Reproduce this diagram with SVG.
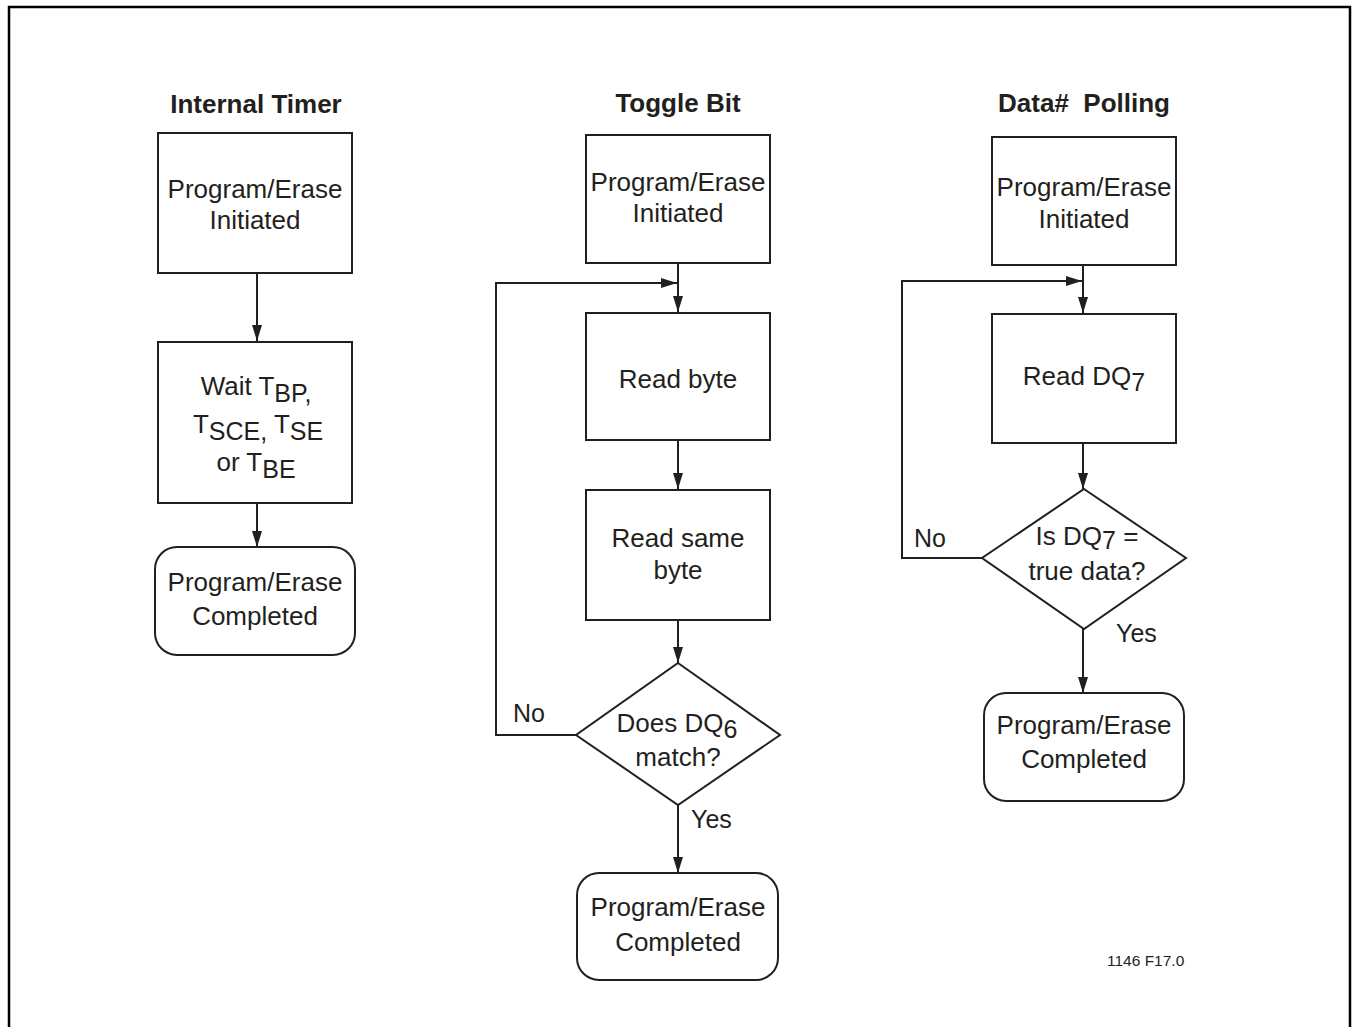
<svg xmlns="http://www.w3.org/2000/svg" width="1356" height="1027" viewBox="0 0 1356 1027">
<style>
.box{fill:#fff;stroke:#231f20;stroke-width:2}
.line{fill:none;stroke:#231f20;stroke-width:2}
.t{font-family:"Liberation Sans",Arial,sans-serif;font-size:26px;fill:#231f20;text-anchor:middle}
.h{font-family:"Liberation Sans",Arial,sans-serif;font-size:26px;font-weight:bold;fill:#231f20;text-anchor:middle}
.lbl{font-family:"Liberation Sans",Arial,sans-serif;font-size:25px;fill:#231f20}
.sub{font-size:25px}
.note{font-family:"Liberation Sans",Arial,sans-serif;font-size:15.5px;fill:#231f20}
</style>
<defs>
<marker id="arr" markerUnits="userSpaceOnUse" markerWidth="16" markerHeight="10" refX="16" refY="5" orient="auto">
<path d="M0,0 L16,5 L0,10 z" fill="#231f20"/>
</marker>
</defs>
<rect x="0" y="0" width="1356" height="1027" fill="#fff"/>
<path d="M9,1027 V7 H1350 V1027" fill="none" stroke="#000" stroke-width="2.5"/>

<g id="titles">
<text class="h" x="256" y="113">Internal Timer</text>
<text class="h" x="678" y="112">Toggle Bit</text>
<text class="h" x="1084" y="112" xml:space="preserve">Data#  Polling</text>
</g>

<g id="connectors">
<line class="line" x1="257" y1="273" x2="257" y2="341" marker-end="url(#arr)"/>
<line class="line" x1="257" y1="503" x2="257" y2="547" marker-end="url(#arr)"/>

<line class="line" x1="678" y1="263" x2="678" y2="312" marker-end="url(#arr)"/>
<path class="line" d="M576,735 H496 V283 H677" marker-end="url(#arr)"/>
<line class="line" x1="678" y1="440" x2="678" y2="489" marker-end="url(#arr)"/>
<line class="line" x1="678" y1="620" x2="678" y2="663" marker-end="url(#arr)"/>
<line class="line" x1="678" y1="805" x2="678" y2="873" marker-end="url(#arr)"/>
<text class="lbl" x="513" y="722">No</text>
<text class="lbl" x="691" y="828">Yes</text>

<line class="line" x1="1083" y1="265" x2="1083" y2="313" marker-end="url(#arr)"/>
<path class="line" d="M982,558 H902 V281 H1082" marker-end="url(#arr)"/>
<line class="line" x1="1083" y1="443" x2="1083" y2="489" marker-end="url(#arr)"/>
<line class="line" x1="1083" y1="629" x2="1083" y2="693" marker-end="url(#arr)"/>
<text class="lbl" x="914" y="547">No</text>
<text class="lbl" x="1116" y="642">Yes</text>
</g>

<g id="it-start">
<rect class="box" x="158" y="133" width="194" height="140"/>
<text class="t" x="255" y="198">Program/Erase</text>
<text class="t" x="255" y="229">Initiated</text>
</g>
<g id="it-wait">
<rect class="box" x="158" y="342" width="194" height="161"/>
<text class="t" x="256" y="395">Wait T<tspan class="sub" dy="7">BP,</tspan></text>
<text class="t" x="258" y="433">T<tspan class="sub" dy="7">SCE,</tspan><tspan dy="-7" xml:space="preserve"> T</tspan><tspan class="sub" dy="7">SE</tspan></text>
<text class="t" x="256" y="471">or T<tspan class="sub" dy="7">BE</tspan></text>
</g>
<g id="it-done">
<rect class="box" x="155" y="547" width="200" height="108" rx="22" ry="22"/>
<text class="t" x="255" y="591">Program/Erase</text>
<text class="t" x="255" y="625">Completed</text>
</g>

<g id="tb-start">
<rect class="box" x="586" y="135" width="184" height="128"/>
<text class="t" x="678" y="191">Program/Erase</text>
<text class="t" x="678" y="222">Initiated</text>
</g>
<g id="tb-read">
<rect class="box" x="586" y="313" width="184" height="127"/>
<text class="t" x="678" y="388">Read byte</text>
</g>
<g id="tb-readsame">
<rect class="box" x="586" y="490" width="184" height="130"/>
<text class="t" x="678" y="547">Read same</text>
<text class="t" x="678" y="579">byte</text>
</g>
<g id="tb-decision">
<polygon class="box" points="678,663 780,735 678,805 576,735"/>
<text class="t" x="677" y="732">Does DQ<tspan class="sub" dy="6">6</tspan></text>
<text class="t" x="678" y="766">match?</text>
</g>
<g id="tb-done">
<rect class="box" x="577" y="873" width="201" height="107" rx="22" ry="22"/>
<text class="t" x="678" y="916">Program/Erase</text>
<text class="t" x="678" y="951">Completed</text>
</g>

<g id="dp-start">
<rect class="box" x="992" y="137" width="184" height="128"/>
<text class="t" x="1084" y="196">Program/Erase</text>
<text class="t" x="1084" y="228">Initiated</text>
</g>
<g id="dp-read">
<rect class="box" x="992" y="314" width="184" height="129"/>
<text class="t" x="1084" y="385">Read DQ<tspan class="sub" dy="6">7</tspan></text>
</g>
<g id="dp-decision">
<polygon class="box" points="1084,489 1186,558 1084,629 982,558"/>
<text class="t" x="1087" y="545">Is DQ<tspan class="sub" dy="4">7</tspan><tspan dy="-4" xml:space="preserve"> =</tspan></text>
<text class="t" x="1087" y="580">true data?</text>
</g>
<g id="dp-done">
<rect class="box" x="984" y="693" width="200" height="108" rx="22" ry="22"/>
<text class="t" x="1084" y="734">Program/Erase</text>
<text class="t" x="1084" y="768">Completed</text>
</g>

<text class="note" x="1107" y="966">1146 F17.0</text>
</svg>
